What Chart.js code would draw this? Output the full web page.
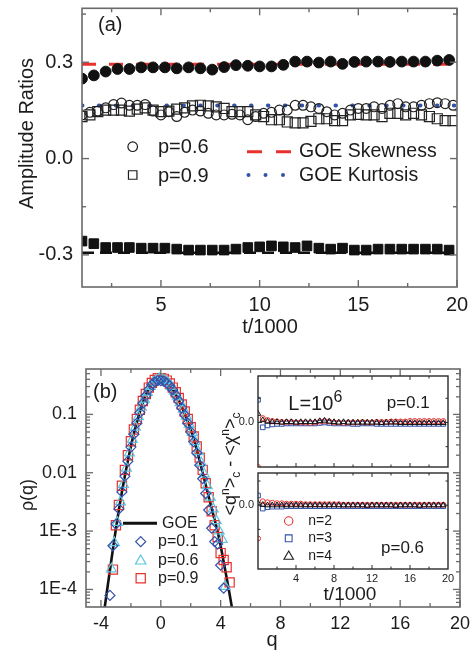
<!DOCTYPE html>
<html>
<head>
<meta charset="utf-8">
<title>Amplitude ratios and rho(q)</title>
<script src="https://cdn.jsdelivr.net/npm/chart.js@4.4.1/dist/chart.umd.min.js"></script>
<style>
  html, body { margin: 0; padding: 0; background: #fff; }
  #page { position: relative; width: 475px; height: 653px; overflow: hidden; background: #fff; }
  #page canvas { position: absolute; }
</style>
</head>
<body>
<div id="page">
  <canvas id="chartA" width="475" height="345" style="left:0;top:0"></canvas>
  <canvas id="chartB" width="475" height="313" style="left:0;top:340px"></canvas>
  <canvas id="insetTop" width="265" height="106" style="left:200px;top:366px"></canvas>
  <canvas id="insetBot" width="265" height="137" style="left:200px;top:468px"></canvas>
</div>
<script>
// ---- panel (a): amplitude ratios vs t/1000 ----
const tFilled = [1.0, 1.6, 2.2, 2.8, 3.4, 4.0, 4.6, 5.2, 5.8, 6.4, 7.0, 7.6, 8.2, 8.8, 9.4, 10.0,
  10.6, 11.2, 11.8, 12.4, 13.0, 13.6, 14.2, 14.8, 15.4, 16.0, 16.6, 17.2, 17.8, 18.4, 19.0, 19.6];
const skewP06 = [0.249, 0.259, 0.271, 0.279, 0.279, 0.284, 0.284, 0.284, 0.281, 0.284, 0.281, 0.277,
  0.285, 0.291, 0.289, 0.287, 0.287, 0.292, 0.302, 0.302, 0.299, 0.302, 0.295, 0.301, 0.302, 0.302,
  0.301, 0.302, 0.302, 0.302, 0.305, 0.307];
const skewP09 = [-0.257, -0.265, -0.277, -0.277, -0.277, -0.279, -0.279, -0.279, -0.282, -0.285,
  -0.285, -0.285, -0.285, -0.282, -0.277, -0.275, -0.272, -0.275, -0.277, -0.272, -0.279, -0.282,
  -0.279, -0.285, -0.285, -0.282, -0.282, -0.282, -0.282, -0.282, -0.282, -0.285];
const tOpen = [1.0, 1.4, 1.8, 2.2, 2.6, 3.0, 3.4, 3.8, 4.2, 4.6, 5.0, 5.4, 5.8, 6.2, 6.6, 7.0, 7.4,
  7.8, 8.2, 8.6, 9.0, 9.4, 9.8, 10.2, 10.6, 11.0, 11.4, 11.8, 12.2, 12.6, 13.0, 13.4, 13.8, 14.2,
  14.6, 15.0, 15.4, 15.8, 16.2, 16.6, 17.0, 17.4, 17.8, 18.2, 18.6, 19.0, 19.4, 19.8];
const kurtP06 = [0.136, 0.144, 0.148, 0.158, 0.168, 0.173, 0.166, 0.166, 0.168, 0.148,
  0.136, 0.146, 0.131, 0.144, 0.151, 0.148, 0.141, 0.136, 0.136, 0.138,
  0.136, 0.121, 0.131, 0.141, 0.144, 0.151, 0.151, 0.166, 0.166, 0.161,
  0.156, 0.146, 0.136, 0.141, 0.151, 0.156, 0.156, 0.161, 0.156, 0.166,
  0.171, 0.161, 0.161, 0.166, 0.171, 0.174, 0.171, 0.166];
const kurtP09 = [0.131, 0.136, 0.146, 0.151, 0.151, 0.151, 0.148, 0.154, 0.158, 0.151,
  0.146, 0.148, 0.154, 0.158, 0.164, 0.166, 0.164, 0.161, 0.156, 0.146,
  0.146, 0.146, 0.136, 0.131, 0.121, 0.121, 0.114, 0.111, 0.111, 0.116,
  0.124, 0.124, 0.118, 0.118, 0.136, 0.138, 0.136, 0.136, 0.131, 0.141,
  0.141, 0.136, 0.141, 0.136, 0.131, 0.124, 0.118, 0.118];
const goeSkewness = 0.2935;
const goeKurtosis = 0.1652;
const ticksAx = [5, 10, 15, 20];
const ticksAy = [-0.3, 0, 0.3];

// ---- panel (b): rho(q) ----
const goeQ = [-3.8, -3.6, -3.4, -3.2, -3.0, -2.8, -2.6, -2.4, -2.2, -2.0, -1.8, -1.6, -1.4, -1.2,
  -1.0, -0.8, -0.6, -0.4, -0.2, 0, 0.2, 0.4, 0.6, 0.8, 1.0, 1.2, 1.4, 1.6, 1.8, 2.0, 2.2, 2.4, 2.6,
  2.8, 3.0, 3.2, 3.4, 3.6, 3.8, 4.0, 4.2, 4.4, 4.6, 4.8];
const goeRho = [3.98e-5, 9.3e-5, 2.14e-4, 4.9e-4, 1.10e-3, 2.34e-3, 4.68e-3, 8.9e-3, 0.0162, 0.0282,
  0.0468, 0.0724, 0.110, 0.158, 0.214, 0.275, 0.331, 0.372, 0.395, 0.396, 0.380, 0.355, 0.316, 0.269,
  0.219, 0.174, 0.135, 0.102, 0.0759, 0.0550, 0.0380, 0.0251, 0.0158, 9.8e-3, 6.2e-3, 3.9e-3,
  2.45e-3, 1.55e-3, 9.8e-4, 5.6e-4, 3.0e-4, 1.58e-4, 8.3e-5, 4.2e-5];
const qP01 = [-3.4, -3.2, -3.0, -2.8, -2.6, -2.4, -2.2, -2.0, -1.8, -1.6, -1.4, -1.2, -1.0, -0.8,
  -0.6, -0.4, -0.2, 0, 0.2, 0.4, 0.6, 0.8, 1.0, 1.2, 1.4, 1.6, 1.8, 2.0, 2.2, 2.4, 2.6, 2.8, 3.0,
  3.2, 3.4, 3.6, 3.8, 4.0, 4.2];
const rhoP01 = [7.9e-5, 5.6e-4, 1.32e-3, 2.4e-3, 4.7e-3, 8.7e-3, 0.0158, 0.0275, 0.0457, 0.0708,
  0.107, 0.155, 0.209, 0.269, 0.324, 0.363, 0.380, 0.380, 0.372, 0.347,
  0.309, 0.263, 0.214, 0.170, 0.129, 0.0977, 0.0708, 0.0501, 0.0339, 0.0219,
  0.0135, 7.9e-3, 4.4e-3, 2.3e-3, 1.12e-3, 6.6e-4, 6.0e-4, 2.6e-4, 1.05e-4];
const qP06 = [-3.3, -3.1, -2.9, -2.7, -2.5, -2.3, -2.1, -1.9, -1.7, -1.5, -1.3, -1.1, -0.9, -0.7,
  -0.5, -0.3, -0.1, 0.1, 0.3, 0.5, 0.7, 0.9, 1.1, 1.3, 1.5, 1.7, 1.9, 2.1, 2.3, 2.5, 2.7, 2.9, 3.1,
  3.3, 3.5, 3.7, 3.9, 4.1, 4.3];
const rhoP06 = [2.24e-4, 6.3e-4, 1.41e-3, 3.16e-3, 6.3e-3, 0.0120, 0.0219, 0.0372, 0.0603, 0.0912,
  0.132, 0.182, 0.240, 0.302, 0.355, 0.389, 0.407, 0.398, 0.380, 0.347,
  0.302, 0.251, 0.204, 0.158, 0.123, 0.0933, 0.0676, 0.0490, 0.0339, 0.0229,
  0.0148, 9.5e-3, 6.0e-3, 3.8e-3, 2.4e-3, 1.51e-3, 1.0e-3, 7.2e-4, 1.12e-4];
const qP09 = [-3.2, -3.0, -2.8, -2.6, -2.4, -2.2, -2.0, -1.8, -1.6, -1.4, -1.2, -1.0, -0.8, -0.6,
  -0.4, -0.2, 0, 0.2, 0.4, 0.6, 0.8, 1.0, 1.2, 1.4, 1.6, 1.8, 2.0, 2.2, 2.4, 2.6, 2.8, 3.0, 3.2,
  3.4, 3.6, 3.8, 4.0, 4.2, 4.4, 4.6];
const rhoP09 = [2.19e-4, 1.26e-3, 2.8e-3, 6.0e-3, 0.0112, 0.0200, 0.0347, 0.0550, 0.0832, 0.120,
  0.170, 0.224, 0.288, 0.347, 0.389, 0.417, 0.417, 0.407, 0.380, 0.339,
  0.288, 0.240, 0.191, 0.148, 0.112, 0.0832, 0.0603, 0.0417, 0.0282, 0.0182,
  0.0112, 6.6e-3, 3.8e-3, 2.19e-3, 1.26e-3, 7.9e-4, 4.2e-4, 3.2e-4, 2.4e-4, 1.32e-4];
const ticksBx = [-4, 0, 4, 8, 12, 16, 20];
const ticksBy = [1e-4, 1e-3, 0.01, 0.1];
const labelsBy = ['1E-4', '1E-3', '0.01', '0.1'];

// ---- inset: cumulant differences vs t/1000, p=0.1 (top) and p=0.6 (bottom) ----
const tInset = [0, 0.5, 1, 1.5, 2, 2.5, 3, 3.5, 4, 4.5, 5, 5.5, 6, 6.5, 7, 7.5, 8, 8.5, 9, 9.5,
  10, 10.5, 11, 11.5, 12, 12.5, 13, 13.5, 14, 14.5, 15, 15.5, 16, 16.5, 17, 17.5, 18, 18.5, 19, 19.5];
const n2P01 = [-0.092, 0.009, 0.005, 0.003, 0.002, 0.001, 0.001, 0.001, 0.000, 0.000,
  0.000, -0.001, 0.000, 0.002, 0.003, 0.002, 0.000, 0.000, -0.001, 0.000,
  0.000, 0.000, 0.001, 0.000, 0.000, 0.001, 0.001, 0.001, 0.002, 0.002,
  0.002, 0.002, 0.003, 0.003, 0.003, 0.003, 0.003, 0.003, 0.003, 0.003];
const n3P01 = [0.047, -0.010, -0.006, -0.004, -0.003, -0.003, -0.002, -0.002, -0.002, -0.002,
  -0.002, -0.002, -0.002, -0.001, 0.000, -0.001, -0.002, -0.002, -0.002, -0.002,
  -0.003, -0.003, -0.002, -0.002, -0.002, -0.003, -0.003, -0.003, -0.003, -0.003,
  -0.003, -0.003, -0.003, -0.003, -0.003, -0.003, -0.003, -0.003, -0.003, -0.003];
const n4P01 = [0.018, 0.005, 0.002, 0.001, 0.001, 0.000, 0.001, 0.001, 0.000, 0.001,
  0.001, 0.001, 0.001, 0.003, 0.004, 0.002, 0.001, 0.000, 0.001, 0.000,
  0.000, 0.000, 0.000, 0.000, 0.000, 0.000, -0.001, 0.000, 0.000, 0.000,
  -0.001, -0.001, -0.001, -0.001, -0.001, -0.001, -0.001, -0.001, -0.001, -0.001];
const n2P06 = [-0.069, 0.008, 0.006, 0.005, 0.004, 0.004, 0.003, 0.003, 0.003, 0.003,
  0.002, 0.002, 0.002, 0.002, 0.002, 0.002, 0.002, 0.002, 0.001, 0.001,
  0.001, 0.001, 0.001, 0.001, 0.001, 0.001, 0.001, 0.001, 0.001, 0.001,
  0.001, 0.001, 0.001, 0.001, 0.001, 0.001, 0.001, 0.001, 0.001, 0.001];
const n3P06 = [0.020, -0.007, -0.004, -0.003, -0.003, -0.003, -0.002, -0.002, -0.002, -0.002,
  -0.002, -0.002, -0.002, -0.002, -0.002, -0.002, -0.002, -0.002, -0.002, -0.002,
  -0.002, -0.002, -0.002, -0.002, -0.002, -0.002, -0.002, -0.002, -0.002, -0.002,
  -0.002, -0.002, -0.002, -0.002, -0.002, -0.002, -0.002, -0.002, -0.002, -0.002];
const n4P06 = [0.004, 0.001, 0.000, 0.000, 0.000, 0.000, 0.000, 0.000, 0.000, 0.000,
  0.000, 0.000, 0.000, 0.000, 0.000, 0.000, 0.000, 0.000, 0.000, 0.000,
  0.000, 0.000, 0.000, -0.001, 0.000, 0.000, 0.000, 0.000, 0.000, -0.001,
  0.000, 0.000, 0.000, 0.000, -0.001, 0.000, 0.000, 0.000, 0.000, 0.000];
const ticksInsetX = [4, 8, 12, 16, 20];

const FONT = '"Liberation Sans", Arial, Helvetica, sans-serif';
const INK = '#1c1c1c';
const RED = '#e8302c';
const BLUE = '#3352aa';
const CYAN = '#5cc6e2';
const NONE = 'rgba(0,0,0,0)';

const pts = (xs, ys) => xs.map((x, i) => ({ x: x, y: ys[i] }));
const hline = (x0, x1, y) => [{ x: x0, y: y }, { x: x1, y: y }];

function text(ctx, s, x, y, size, align, base) {
  ctx.font = size + 'px ' + FONT;
  ctx.textAlign = align || 'left';
  ctx.textBaseline = base || 'middle';
  ctx.fillStyle = INK;
  ctx.fillText(s, x, y);
}
function vtext(ctx, s, x, y, size) {
  ctx.save();
  ctx.translate(x, y);
  ctx.rotate(-Math.PI / 2);
  text(ctx, s, 0, 0, size, 'center', 'middle');
  ctx.restore();
}
function marker(ctx, style, r, x, y, stroke, fill, lw) {
  ctx.save();
  ctx.strokeStyle = stroke;
  ctx.fillStyle = fill || NONE;
  ctx.lineWidth = lw;
  Chart.helpers.drawPoint(ctx, { pointStyle: style, radius: r, rotation: 0, borderWidth: lw }, x, y);
  ctx.restore();
}

// box around the plot area with inward ticks on every side
function frameTicks(cfg) {
  return {
    id: 'frameTicks',
    afterDatasetsDraw(chart) {
      const ctx = chart.ctx, a = chart.chartArea;
      const xs = chart.scales.x, ys = chart.scales.y;
      const seg = (x1, y1, x2, y2) => { ctx.beginPath(); ctx.moveTo(x1, y1); ctx.lineTo(x2, y2); ctx.stroke(); };
      ctx.save();
      ctx.strokeStyle = cfg.color;
      ctx.lineWidth = cfg.tickWidth;
      const xTicks = (vals, len) => (vals || []).forEach(v => {
        const px = xs.getPixelForValue(v);
        if (px < a.left - 0.5 || px > a.right + 0.5) return;
        if (cfg.bottom !== false) seg(px, a.bottom, px, a.bottom - len);
        if (cfg.top !== false) seg(px, a.top, px, a.top + len);
      });
      const yTicks = (vals, len) => (vals || []).forEach(v => {
        const py = ys.getPixelForValue(v);
        if (py < a.top - 0.5 || py > a.bottom + 0.5) return;
        if (cfg.left !== false) seg(a.left, py, a.left + len, py);
        if (cfg.right !== false) seg(a.right, py, a.right - len, py);
      });
      xTicks(cfg.xMajor, cfg.major);
      xTicks(cfg.xMinor, cfg.minor);
      yTicks(cfg.yMajor, cfg.major);
      yTicks(cfg.yMinor, cfg.minor);
      ctx.lineWidth = cfg.width;
      ctx.strokeRect(a.left, a.top, a.right - a.left, a.bottom - a.top);
      ctx.restore();
    }
  };
}

function axis(opts) {
  const o = {
    type: opts.type || 'linear',
    min: opts.min, max: opts.max,
    display: opts.display !== false,
    grid: { display: false, drawTicks: false },
    border: { display: false },
    ticks: {
      display: opts.labels !== false,
      autoSkip: false, maxRotation: 0, minRotation: 0,
      font: { family: FONT, size: opts.fontSize },
      color: INK,
      padding: opts.padding,
      callback: opts.callback
    },
    afterBuildTicks: s => { s.ticks = opts.ticks.map(v => ({ value: v })); },
    afterFit: s => {
      if (opts.width !== undefined) s.width = opts.width;
      if (opts.height !== undefined) s.height = opts.height;
      s.paddingLeft = 0; s.paddingRight = 0; s.paddingTop = 0; s.paddingBottom = 0;
    }
  };
  if (!o.ticks.callback) delete o.ticks.callback;
  return o;
}

const common = {
  responsive: false,
  animation: false,
  devicePixelRatio: 1,
  events: [],
  plugins: { legend: { display: false }, tooltip: { enabled: false } }
};

// ---------------- panel (a) ----------------
const labelsA = {
  id: 'labelsA',
  afterDraw(chart) {
    const ctx = chart.ctx;
    ctx.save();
    text(ctx, '(a)', 98, 25, 20);
    vtext(ctx, 'Amplitude Ratios', 27, 133.5, 20);
    text(ctx, 't/1000', 270, 327, 20, 'center');

    marker(ctx, 'circle', 4.8, 132.7, 146.7, INK, null, 1.2);
    text(ctx, 'p=0.6', 158, 147, 20);
    marker(ctx, 'rect', 6, 132.7, 175, INK, null, 1.2);
    text(ctx, 'p=0.9', 158, 176, 20);

    ctx.strokeStyle = RED;
    ctx.lineWidth = 3;
    ctx.setLineDash([15, 14]);
    ctx.beginPath(); ctx.moveTo(247, 151.7); ctx.lineTo(291, 151.7); ctx.stroke();
    ctx.setLineDash([]);
    ctx.fillStyle = BLUE;
    [248.5, 265.5, 283].forEach(x => { ctx.beginPath(); ctx.arc(x, 175, 2, 0, Math.PI * 2); ctx.fill(); });
    text(ctx, 'GOE Skewness', 299, 152, 19.5);
    text(ctx, 'GOE Kurtosis', 299, 175.5, 19.5);
    ctx.restore();
  }
};

new Chart(document.getElementById('chartA'), {
  type: 'scatter',
  data: {
    datasets: [
      { label: 'GOE Skewness', data: hline(1, 20, goeSkewness), showLine: true, pointRadius: 0,
        borderColor: RED, borderWidth: 3, borderDash: [14, 13], order: 10 },
      { label: '-GOE Skewness', data: hline(1, 20, -goeSkewness), showLine: true, pointRadius: 0,
        borderColor: '#111', borderWidth: 2.5, borderDash: [12, 6], order: 11 },
      { label: 'GOE Kurtosis', data: hline(1, 20, goeKurtosis), showLine: true, pointRadius: 0,
        borderColor: BLUE, borderWidth: 4, borderDash: [0.5, 16.4], borderCapStyle: 'round', order: 12 },
      { label: 'p=0.6 skewness', data: pts(tFilled, skewP06), pointStyle: 'circle', pointRadius: 5.4,
        backgroundColor: '#111', borderColor: '#111', borderWidth: 1, order: 2 },
      { label: 'p=0.9 skewness', data: pts(tFilled, skewP09), pointStyle: 'rect', pointRadius: 6.8,
        backgroundColor: '#111', borderColor: '#111', borderWidth: 1, order: 1 },
      { label: 'p=0.6 kurtosis', data: pts(tOpen, kurtP06), pointStyle: 'circle', pointRadius: 4.9,
        backgroundColor: NONE, borderColor: '#222', borderWidth: 1.2, order: 3 },
      { label: 'p=0.9 kurtosis', data: pts(tOpen, kurtP09), pointStyle: 'rect', pointRadius: 7.1,
        backgroundColor: NONE, borderColor: '#222', borderWidth: 1.2, order: 4 }
    ]
  },
  options: Object.assign({}, common, {
    layout: { padding: { left: 0, top: 1, right: 18, bottom: 0 } },
    scales: {
      x: axis({ min: 1, max: 20, ticks: ticksAx, fontSize: 20, padding: 6, height: 58 }),
      y: axis({ min: -0.4, max: 0.468, ticks: ticksAy, fontSize: 20, padding: 9, width: 82,
        callback: v => v.toFixed(1) })
    }
  }),
  plugins: [frameTicks({ color: '#6a6a6a', width: 1.6, tickWidth: 1.4, major: 7, minor: 4,
    xMajor: ticksAx, xMinor: [2.5, 7.5, 12.5, 17.5], yMajor: ticksAy, yMinor: [-0.15, 0.15, 0.45] }), labelsA]
});

// ---------------- panel (b) ----------------
const OFF_B = 340;
function drawInsetTitle(ctx, cx, cy) {
  const parts = [['<q', 18, 0], ['n', 12, -7], ['>', 18, 0], ['c', 12, 4],
    [' - <\u03C7', 18, 0], ['n', 12, -7], ['>', 18, 0], ['c', 12, 4]];
  ctx.save();
  ctx.translate(cx, cy);
  ctx.rotate(-Math.PI / 2);
  let w = 0;
  parts.forEach(p => { ctx.font = p[1] + 'px ' + FONT; w += ctx.measureText(p[0]).width; });
  let x = -w / 2;
  ctx.textAlign = 'left';
  ctx.textBaseline = 'alphabetic';
  ctx.fillStyle = INK;
  parts.forEach(p => {
    ctx.font = p[1] + 'px ' + FONT;
    ctx.fillText(p[0], x, 6 + p[2]);
    x += ctx.measureText(p[0]).width;
  });
  ctx.restore();
}

const labelsB = {
  id: 'labelsB',
  afterDraw(chart) {
    const ctx = chart.ctx;
    const Y = v => v - OFF_B;
    ctx.save();
    text(ctx, '(b)', 93, Y(392), 20);
    vtext(ctx, '\u03C1(q)', 28, Y(495), 18);
    text(ctx, 'q', 272, Y(640), 20, 'center');

    // legend of the main panel
    ctx.strokeStyle = '#111';
    ctx.lineWidth = 3;
    ctx.beginPath(); ctx.moveTo(123, Y(523.3)); ctx.lineTo(157, Y(523.3)); ctx.stroke();
    text(ctx, 'GOE', 162, Y(523.5), 16);
    marker(ctx, 'rectRot', 5, 140.7, Y(541.7), BLUE, null, 1.2);
    text(ctx, 'p=0.1', 158, Y(542), 16);
    marker(ctx, 'triangle', 6, 140.7, Y(561), CYAN, null, 1.2);
    text(ctx, 'p=0.6', 158, Y(560.5), 16);
    marker(ctx, 'rect', 6.5, 140.7, Y(578.3), RED, null, 1.2);
    text(ctx, 'p=0.9', 158, Y(578.5), 16);

    // inset annotations
    text(ctx, 'L=10', 288.3, Y(410), 20, 'left', 'alphabetic');
    text(ctx, '6', 333.5, Y(402), 16, 'left', 'alphabetic');
    text(ctx, 'p=0.1', 386.7, Y(407.5), 17, 'left', 'alphabetic');
    text(ctx, 'p=0.6', 381, Y(553.3), 17, 'left', 'alphabetic');
    marker(ctx, 'circle', 4.2, 288.7, Y(521), RED, null, 1.1);
    text(ctx, 'n=2', 308.3, Y(521), 14);
    marker(ctx, 'rect', 4.8, 288.7, Y(538.3), BLUE, null, 1.1);
    text(ctx, 'n=3', 308.3, Y(538.3), 14);
    marker(ctx, 'triangle', 5.5, 288.7, Y(556.5), INK, null, 1.1);
    text(ctx, 'n=4', 308.3, Y(556), 14);
    text(ctx, 't/1000', 350, Y(595), 19, 'center');
    drawInsetTitle(ctx, 230, Y(464));
    ctx.restore();
  }
};

const logMinorB = [];
[1e-5, 1e-4, 1e-3, 1e-2, 1e-1].forEach(d => {
  for (let k = 2; k <= 9; k++) {
    const v = k * d;
    if (v > 5e-5 && v < 0.6) logMinorB.push(v);
  }
});

new Chart(document.getElementById('chartB'), {
  type: 'scatter',
  data: {
    datasets: [
      { label: 'GOE', data: pts(goeQ, goeRho), showLine: true, pointRadius: 0, borderColor: '#111',
        borderWidth: 2.6, cubicInterpolationMode: 'monotone', order: 10 },
      { label: 'p=0.9', data: pts(qP09, rhoP09), pointStyle: 'rect', pointRadius: 6.5,
        backgroundColor: NONE, borderColor: RED, borderWidth: 1.2, order: 3 },
      { label: 'p=0.6', data: pts(qP06, rhoP06), pointStyle: 'triangle', pointRadius: 5.8,
        backgroundColor: NONE, borderColor: CYAN, borderWidth: 1.2, order: 2 },
      { label: 'p=0.1', data: pts(qP01, rhoP01), pointStyle: 'rectRot', pointRadius: 5,
        backgroundColor: NONE, borderColor: BLUE, borderWidth: 1.2, order: 1 }
    ]
  },
  options: Object.assign({}, common, {
    layout: { padding: { left: 0, top: 29, right: 15, bottom: 0 } },
    scales: {
      x: axis({ min: -5, max: 20, ticks: ticksBx, fontSize: 18, padding: 6, height: 46 }),
      y: axis({ type: 'logarithmic', min: 5e-5, max: 0.6, ticks: ticksBy, fontSize: 18, padding: 9,
        width: 86, callback: (v, i) => labelsBy[i] })
    }
  }),
  plugins: [frameTicks({ color: '#6a6a6a', width: 1.6, tickWidth: 1.3, major: 7, minor: 4,
    xMajor: ticksBx, xMinor: [-2, 2, 6, 10, 14, 18], yMajor: ticksBy, yMinor: logMinorB }), labelsB]
});

// ---------------- inset ----------------
function insetSets(n2, n3, n4) {
  return [
    { label: 'n=3', data: pts(tInset, n3), pointStyle: 'rect', pointRadius: 3.3, backgroundColor: NONE,
      borderColor: BLUE, borderWidth: 1, clip: 0, order: 3 },
    { label: 'n=2', data: pts(tInset, n2), pointStyle: 'circle', pointRadius: 2.5, backgroundColor: NONE,
      borderColor: RED, borderWidth: 1, clip: 0, order: 2 },
    { label: 'n=4', data: pts(tInset, n4), pointStyle: 'triangle', pointRadius: 3.2, backgroundColor: NONE,
      borderColor: '#111', borderWidth: 1, clip: 0, order: 1 }
  ];
}
const insetFrame = {
  color: '#2a2a2a', width: 1.4, tickWidth: 1, major: 4, minor: 2.5,
  xMajor: [4, 8, 12, 16], xMinor: [2, 6, 10, 14, 18], yMajor: [0], yMinor: [-0.05, 0.05]
};

new Chart(document.getElementById('insetTop'), {
  type: 'scatter',
  data: { datasets: insetSets(n2P01, n3P01, n4P01) },
  options: Object.assign({}, common, {
    layout: { padding: { left: 0, top: 10, right: 17, bottom: 2 } },
    scales: {
      x: axis({ min: 0, max: 20, ticks: ticksInsetX, display: false, fontSize: 11, padding: 3 }),
      y: axis({ min: -0.092, max: 0.096, ticks: [0], fontSize: 11, padding: 4, width: 58,
        callback: v => v.toFixed(1) })
    }
  }),
  plugins: [frameTicks(insetFrame)]
});

new Chart(document.getElementById('insetBot'), {
  type: 'scatter',
  data: { datasets: insetSets(n2P06, n3P06, n4P06) },
  options: Object.assign({}, common, {
    layout: { padding: { left: 0, top: 2, right: 17, bottom: 0 } },
    scales: {
      x: axis({ min: 0, max: 20, ticks: ticksInsetX, fontSize: 11, padding: 3, height: 36 }),
      y: axis({ min: -0.132, max: 0.0666, ticks: [0], fontSize: 11, padding: 4, width: 58,
        callback: v => v.toFixed(1) })
    }
  }),
  plugins: [frameTicks(insetFrame)]
});
</script>
</body>
</html>
